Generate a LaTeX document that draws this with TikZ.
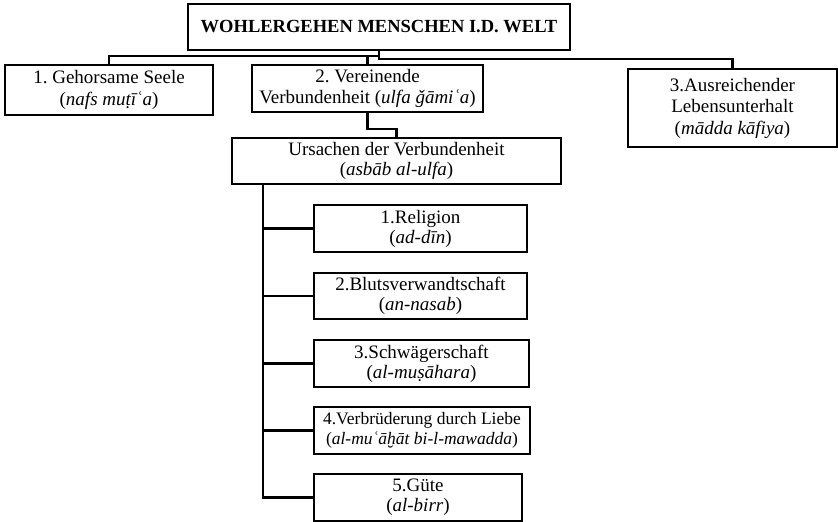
\documentclass[tikz,border=0pt]{standalone}
\usepackage{fontspec}
\setmainfont{Liberation Serif}
\usepackage{tikz}
\usetikzlibrary{calc}
\frenchspacing
\tikzset{
  kasten/.style={draw, line width=2.1pt, inner sep=0pt, align=center,
    font=\fontsize{19}{20}\selectfont},
  verbinder/.style={line width=2.1pt}
}
\begin{document}
\begin{tikzpicture}[x=1pt, y=-1pt]
\useasboundingbox (0,0) rectangle (838,522);
% oberste Ebene
\node[kasten, minimum width=382, minimum height=46, font=\bfseries\fontsize{18.5}{20}\selectfont] (welt) at (379,27) {WOHLERGEHEN MENSCHEN I.D. WELT};
\node[kasten, minimum width=208, minimum height=50, font=\fontsize{19}{21.5}\selectfont] (seele) at (109,90) {1. Gehorsame Seele\\(\textit{nafs muṭīʿa})};
\node[kasten, minimum width=231, minimum height=47, font=\fontsize{19}{21.5}\selectfont] (einheit) at (367.5,88.5) {2. Vereinende\\Verbundenheit (\textit{ulfa ǧāmiʿa})};
\node[kasten, minimum width=209, minimum height=78, font=\fontsize{19}{21.5}\selectfont] (unterhalt) at (732.5,108) {3.Ausreichender\\Lebensunterhalt\\(\textit{mādda kāfiya})};
\draw[verbinder] (welt.south) -- ++(0,5) -| (seele.north);
\draw[verbinder] (welt.south) -- ++(0,5) -| (einheit.north);
\draw[verbinder] (welt.south) -- ++(0,8) -| (unterhalt.north);
% Ursachen
\node[kasten, minimum width=329, minimum height=46] (ursachen) at (396.5,161) {Ursachen der Verbundenheit\\(\textit{asbāb al-ulfa})};
\draw[verbinder] (einheit.south) -- ++(0,16) -| (ursachen.north);
\node[kasten, minimum width=213, minimum height=47] (religion) at (420.5,228.5) {1.Religion\\(\textit{ad-dīn})};
\node[kasten, minimum width=213, minimum height=46] (blut) at (420.5,296) {2.Blutsverwandtschaft\\(\textit{an-nasab})};
\node[kasten, minimum width=215, minimum height=47] (schwager) at (421.5,363.5) {3.Schwägerschaft\\(\textit{al-muṣāhara})};
\node[kasten, minimum width=216, minimum height=47, font=\fontsize{17.5}{19.5}\selectfont] (liebe) at (422,430.5) {4.Verbrüderung durch Liebe\\(\textit{al-muʿāḫāt bi-l-mawadda})};
\node[kasten, minimum width=208, minimum height=47] (guete) at (418,497.5) {5.Güte\\(\textit{al-birr})};
\coordinate (stamm) at ($(ursachen.south west)+(32,0)$);
\draw[verbinder] (stamm) |- (religion.west);
\draw[verbinder] (stamm) |- (blut.west);
\draw[verbinder] (stamm) |- (schwager.west);
\draw[verbinder] (stamm) |- (liebe.west);
\draw[verbinder] (stamm) |- (guete.west);
\end{tikzpicture}
\end{document}
